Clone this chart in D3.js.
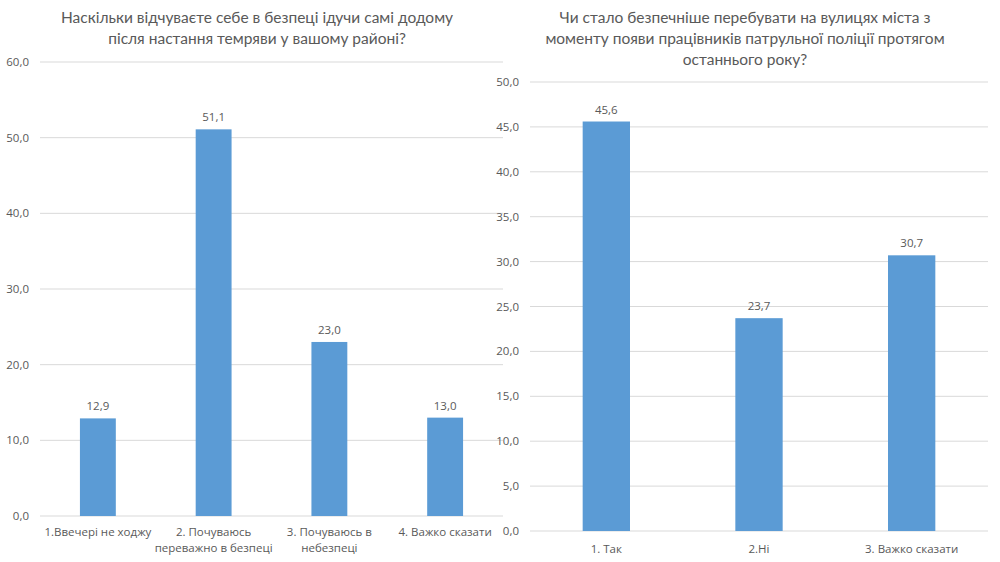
<!DOCTYPE html>
<html><head><meta charset="utf-8">
<script src="https://cdn.jsdelivr.net/npm/d3@7"></script>
<style>body{margin:0;background:#fff}svg{display:block}text{font-family:"Open Sans","Noto Sans",sans-serif;fill:#595959}text.title{font-family:Lato,"Open Sans",sans-serif}</style>
</head><body>
<script>
const leftTitle = ["Наскільки відчуваєте себе в безпеці ідучи самі додому", "після настання темряви у вашому районі?"];
const leftCategories = [["1.Ввечері не ходжу"], ["2. Почуваюсь", "переважно в безпеці"], ["3. Почуваюсь в", "небезпеці"], ["4. Важко сказати"]];
const leftValues = [12.9, 51.1, 23.0, 13.0];
const leftTicks = [0, 10, 20, 30, 40, 50, 60];

const rightTitle = ["Чи стало безпечніше перебувати на вулицях міста з", "моменту появи працівників патрульної поліції протягом", "останнього року?"];
const rightCategories = [["1. Так"], ["2.Ні"], ["3. Важко сказати"]];
const rightValues = [45.6, 23.7, 30.7];
const rightTicks = [0, 5, 10, 15, 20, 25, 30, 35, 40, 45, 50];

const svg = d3.select("body").append("svg").attr("width", 1000).attr("height", 562);
const fmt = v => d3.format(".1f")(v).replace(".", ",");

function chart(cfg) {
  const g = svg.append("g");
  const x = d3.scaleBand().domain(cfg.cats.map((d, i) => i)).range([cfg.x0, cfg.x1]).paddingInner(0.69).paddingOuter(0.345);
  const y = d3.scaleLinear().domain([0, cfg.max]).range([cfg.y0, cfg.y1]);
  g.selectAll(".grid").data(cfg.ticks).join("line")
    .attr("x1", cfg.x0).attr("x2", cfg.x1)
    .attr("y1", d => y(d)).attr("y2", d => y(d))
    .attr("stroke", "#d9d9d9").attr("stroke-width", 1);
  g.selectAll(".yl").data(cfg.ticks).join("text")
    .attr("x", cfg.x0 - 11).attr("y", d => y(d) + 4)
    .attr("text-anchor", "end").attr("font-size", 11.5).text(fmt);
  g.selectAll(".bar").data(cfg.vals).join("rect")
    .attr("x", (d, i) => x(i)).attr("width", x.bandwidth())
    .attr("y", d => y(d)).attr("height", d => y(0) - y(d))
    .attr("fill", "#5B9BD5");
  g.selectAll(".vl").data(cfg.vals).join("text")
    .attr("x", (d, i) => x(i) + x.bandwidth() / 2).attr("y", d => y(d) - 8)
    .attr("text-anchor", "middle").attr("font-size", 11.5).text(fmt);
  cfg.cats.forEach((lines, i) => {
    const t = g.append("text").attr("text-anchor", "middle").attr("font-size", 11.5)
      .attr("x", x(i) + x.bandwidth() / 2).attr("y", cfg.catY);
    lines.forEach((l, j) => t.append("tspan").attr("x", x(i) + x.bandwidth() / 2).attr("dy", j ? 16 : 0).text(l));
  });
  const tt = g.append("text").attr("class", "title").attr("text-anchor", "middle").attr("font-size", 15.5).attr("y", 23);
  cfg.title.forEach((l, j) => tt.append("tspan").attr("x", cfg.tx).attr("dy", j ? 21 : 0).text(l));
}

chart({x0: 40, x1: 503, y0: 516, y1: 62, max: 60, ticks: leftTicks, vals: leftValues, cats: leftCategories, catY: 536, title: leftTitle, tx: 257});
chart({x0: 530, x1: 988, y0: 531, y1: 82, max: 50, ticks: rightTicks, vals: rightValues, cats: rightCategories, catY: 553, title: rightTitle, tx: 745});
</script>
</body></html>
